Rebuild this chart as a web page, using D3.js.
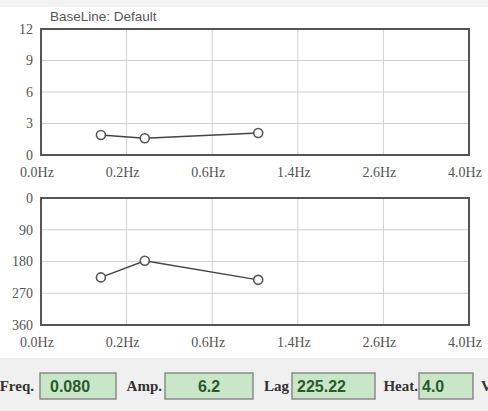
<!DOCTYPE html>
<html>
<head>
<meta charset="utf-8">
<script src="https://cdn.jsdelivr.net/npm/d3@7"></script>
<style>
  body { margin: 0; background: #fff; }
  svg { display: block; }
</style>
</head>
<body>
<div id="chart"></div>
<script>
// data
const freqTicks = [0.0, 0.2, 0.6, 1.4, 2.6, 4.0];
const freqs = [0.14, 0.285, 1.03];
const ampValues = [1.9, 1.6, 2.1];
const lagValues = [225, 178, 232];
const ampTicks = [0, 3, 6, 9, 12];
const lagTicks = [0, 90, 180, 270, 360];
const readoutLabels = ["Freq.", "Amp.", "Lag", "Heat."];
const readoutValues = ["0.080", "6.2", "225.22", "4.0"];

const width = 488, height = 411;
const plotLeft = 41, plotRight = 469;

const svg = d3.select("#chart")
  .append("svg")
  .attr("width", width)
  .attr("height", height);

svg.append("rect").attr("width", width).attr("height", height).attr("fill", "#fff");
svg.append("rect").attr("width", width).attr("height", 7).attr("fill", "#f3f3f3");

// x axis is spaced evenly between ticks (piecewise linear)
const x = d3.scaleLinear()
  .domain(freqTicks)
  .range(freqTicks.map((d, i) => plotLeft + i * (plotRight - plotLeft) / (freqTicks.length - 1)));

function drawPanel(top, bottom, yDomain, yTicks, values) {
  const y = d3.scaleLinear().domain(yDomain).range([bottom, top]);
  const g = svg.append("g");

  // grid
  g.selectAll(".hgrid")
    .data(yTicks)
    .enter().append("line")
    .attr("x1", plotLeft).attr("x2", plotRight)
    .attr("y1", d => y(d)).attr("y2", d => y(d))
    .attr("stroke", "#d0d0d0").attr("stroke-width", 1);
  g.selectAll(".vgrid")
    .data(freqTicks)
    .enter().append("line")
    .attr("x1", d => x(d)).attr("x2", d => x(d))
    .attr("y1", top).attr("y2", bottom)
    .attr("stroke", "#d0d0d0").attr("stroke-width", 1);

  // frame
  g.append("rect")
    .attr("x", plotLeft).attr("y", top)
    .attr("width", plotRight - plotLeft).attr("height", bottom - top)
    .attr("fill", "none").attr("stroke", "#555").attr("stroke-width", 2);

  // y labels
  g.selectAll(".ylab")
    .data(yTicks)
    .enter().append("text")
    .attr("x", 33).attr("y", d => y(d))
    .attr("dy", "0.35em")
    .attr("text-anchor", "end")
    .attr("font-family", "Liberation Serif")
    .attr("font-size", 14)
    .attr("fill", "#555")
    .text(d => d);

  // x labels
  g.selectAll(".xlab")
    .data(freqTicks)
    .enter().append("text")
    .attr("x", d => x(d) - 4).attr("y", bottom + 17)
    .attr("dy", "0.35em")
    .attr("text-anchor", "middle")
    .attr("font-family", "Liberation Serif")
    .attr("font-size", 14)
    .attr("fill", "#555")
    .text(d => d.toFixed(1) + "Hz");

  const pts = freqs.map((f, i) => [x(f), y(values[i])]);
  g.append("path")
    .attr("d", d3.line()(pts))
    .attr("fill", "none")
    .attr("stroke", "#444").attr("stroke-width", 1.4);
  g.selectAll("circle")
    .data(pts)
    .enter().append("circle")
    .attr("cx", d => d[0]).attr("cy", d => d[1])
    .attr("r", 4.5)
    .attr("fill", "#fff")
    .attr("stroke", "#555").attr("stroke-width", 1.6);
}

svg.append("text")
  .attr("x", 50).attr("y", 16)
  .attr("dy", "0.35em")
  .attr("font-family", "Liberation Sans")
  .attr("font-size", 13.5)
  .attr("fill", "#555")
  .text("BaseLine: Default");

drawPanel(29, 155, [0, 12], ampTicks, ampValues);
drawPanel(198, 325, [360, 0], lagTicks, lagValues);

// readout strip
svg.append("rect").attr("x", 0).attr("y", 358)
  .attr("width", width).attr("height", height - 358).attr("fill", "#f0f0f0");

const boxes = [
  { labelEnd: 34, x: 40, w: 76, anchor: "start", tx: 50 },
  { labelEnd: 162, x: 165, w: 88, anchor: "middle", tx: 209 },
  { labelEnd: 289, x: 292, w: 83, anchor: "start", tx: 297 },
  { labelEnd: 418, x: 419, w: 54, anchor: "start", tx: 422 }
];
const rg = svg.selectAll(".readout")
  .data(boxes)
  .enter().append("g");
rg.append("text")
  .attr("x", d => d.labelEnd).attr("y", 386)
  .attr("dy", "0.35em")
  .attr("text-anchor", "end")
  .attr("font-family", "Liberation Serif")
  .attr("font-weight", "bold")
  .attr("font-size", 15)
  .attr("fill", "#333")
  .text((d, i) => readoutLabels[i]);
rg.append("rect")
  .attr("x", d => d.x).attr("y", 373)
  .attr("width", d => d.w).attr("height", 26)
  .attr("fill", "#c9e6c9")
  .attr("stroke", "#8a8a8a").attr("stroke-width", 1.5);
rg.append("text")
  .attr("x", d => d.tx).attr("y", 386)
  .attr("dy", "0.35em")
  .attr("text-anchor", d => d.anchor)
  .attr("font-family", "Liberation Sans")
  .attr("font-weight", "bold")
  .attr("font-size", 16)
  .attr("fill", "#2a5a2a")
  .text((d, i) => readoutValues[i]);
svg.append("text")
  .attr("x", 481).attr("y", 386)
  .attr("dy", "0.35em")
  .attr("font-family", "Liberation Serif")
  .attr("font-weight", "bold")
  .attr("font-size", 15)
  .attr("fill", "#333")
  .text("V");
</script>
</body>
</html>
